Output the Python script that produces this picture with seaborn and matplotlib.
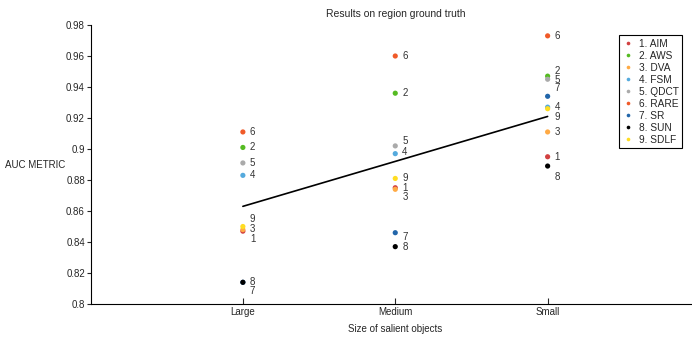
import pandas as pd
import numpy as np
import matplotlib.pyplot as plt
import seaborn as sns

# Data
sizes = ['Large', 'Medium', 'Small']
methods = ['1. AIM', '2. AWS', '3. DVA', '4. FSM', '5. QDCT', '6. RARE', '7. SR', '8. SUN', '9. SDLF']
auc_large = [0.847, 0.901, 0.848, 0.883, 0.891, 0.911, 0.814, 0.814, 0.850]
auc_medium = [0.875, 0.936, 0.874, 0.897, 0.902, 0.960, 0.846, 0.837, 0.881]
auc_small = [0.895, 0.947, 0.911, 0.927, 0.945, 0.973, 0.934, 0.889, 0.926]
trend_sizes = ['Large', 'Small']
trend_auc = [0.863, 0.921]

colors = ['#d24141', '#55bb22', '#ffaa44', '#55aadd', '#aaaaaa',
          '#f05a28', '#2266aa', '#000000', '#ffdd22']

# label nudges in pixels (positive = down), to keep numbers from overlapping
label_shift = {
    'Large': [8, 0, -1, 0, 0, 0, 9, 0, -8],
    'Medium': [0, 0, 8, -2, -5, 0, 4, 0, 0],
    'Small': [0, -5, 0, 0, 1, 0, -8, 11, 8],
}

df = pd.DataFrame({
    'size': np.repeat(sizes, len(methods)),
    'method': methods * len(sizes),
    'auc': auc_large + auc_medium + auc_small,
})

sns.set_style('white')
plt.rcParams['font.family'] = ['Liberation Sans', 'DejaVu Sans']
plt.rcParams['font.size'] = 7

fig = plt.figure(figsize=(6.92, 3.37), dpi=100)
ax = fig.add_axes([90.5 / 692, 33 / 337, (700 - 90.5) / 692, (304 - 25) / 337])

sns.scatterplot(data=df, x='size', y='auc', hue='method', hue_order=methods,
                palette=colors, s=14, linewidth=0, ax=ax, zorder=3)
sns.lineplot(x=trend_sizes, y=trend_auc, color='black', linewidth=1.2, ax=ax)

for i, row in df.iterrows():
    k = methods.index(row['method'])
    num = row['method'].split('.')[0]
    ax.annotate(num, (sizes.index(row['size']), row['auc']),
                xytext=(7, -label_shift[row['size']][k]), textcoords='offset pixels',
                va='center', ha='left', fontsize=7, color='#333333')

ax.set_xlim(-1, 3)
ax.set_ylim(0.8, 0.98)
ax.set_yticks(np.arange(0.8, 0.981, 0.02))
ax.set_yticklabels(['0.8', '0.82', '0.84', '0.86', '0.88', '0.9', '0.92', '0.94', '0.96', '0.98'])
ax.tick_params(axis='x', direction='in', length=4.5, width=0.8, pad=2.5, bottom=True)
ax.tick_params(axis='y', direction='out', length=3, width=0.8, pad=1, left=True)
for side in ['top', 'right']:
    ax.spines[side].set_visible(False)
for side in ['left', 'bottom']:
    ax.spines[side].set_color('black')
    ax.spines[side].set_linewidth(0.8)

ax.set_title('Results on region ground truth', fontsize=7.5, pad=6)
ax.set_xlabel('Size of salient objects', fontsize=7)
ax.xaxis.set_label_coords(0.5, (304 - 329) / 279)
ax.xaxis.label.set_va('center')
ax.set_ylabel('AUC METRIC', fontsize=7, rotation=0, ha='center', va='center')
ax.yaxis.set_label_coords((35 - 90.5) / 609.5, 0.5)

leg = ax.legend(loc='upper right', bbox_to_anchor=(682 / 692, 1 - 35 / 337),
                bbox_transform=fig.transFigure, borderaxespad=0, fontsize=7.3,
                frameon=True, fancybox=False, edgecolor='black', framealpha=1,
                handlelength=1.2, handletextpad=0.4, labelspacing=0.2,
                borderpad=0.35, markerscale=0.7)
leg.get_frame().set_linewidth(0.8)

fig.savefig('out.png', dpi=100)
